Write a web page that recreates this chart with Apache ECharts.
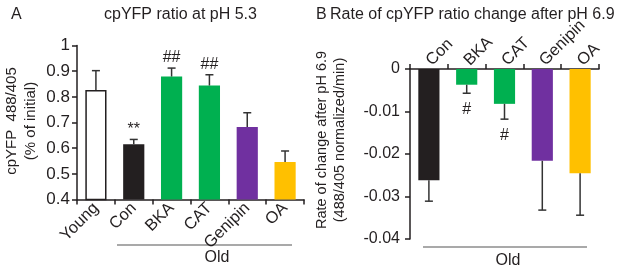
<!DOCTYPE html>
<html>
<head>
<meta charset="utf-8">
<script src="https://cdn.jsdelivr.net/npm/echarts@6/dist/echarts.min.js"></script>
<style>
  html, body { margin: 0; padding: 0; background: #fff; }
  #chart { width: 617px; height: 270px; }
</style>
</head>
<body>
<div id="chart"></div>
<script>
// panel A: cpYFP ratio at pH 5.3
var catsA = ['Young', 'Con', 'BKA', 'CAT', 'Genipin', 'OA'];
var valsA = [0.827, 0.615, 0.879, 0.844, 0.682, 0.546];
var semA = [0.075, 0.019, 0.033, 0.042, 0.056, 0.043];
var sigA = ['', '**', '##', '##', '', ''];
var ticksA = [0.4, 1, 0.1];

// panel B: rate of change after pH 6.9
var catsB = ['Con', 'BKA', 'CAT', 'Genipin', 'OA'];
var valsB = [-0.0262, -0.0037, -0.0082, -0.0216, -0.0245];
var semB = [0.0049, 0.0020, 0.0036, 0.0116, 0.0099];
var sigB = ['', '#', '#', '', ''];
var ticksB = [-0.04, 0, 0.01];

var colorsA = ['#ffffff', '#231f20', '#00b050', '#00b050', '#7030a0', '#ffc000'];
var colorsB = ['#231f20', '#00b050', '#00b050', '#7030a0', '#ffc000'];

var font = 'Liberation Sans, Arial, sans-serif';
var ink = '#231f20';

var myChart = echarts.init(document.getElementById('chart'));

// 误差线 + 显著性标记
function errRender(vals, sems, sigs, dir) {
    return function (params, api) {
        var i = api.value(0);
        var top = api.coord([i, vals[i]]);
        var end = api.coord([i, vals[i] + dir * sems[i]]);
        var half = 4;
        var kids = [
            { type: 'line', shape: { x1: top[0], y1: top[1], x2: end[0], y2: end[1] }, style: { stroke: '#333', lineWidth: 1.5 } },
            { type: 'line', shape: { x1: end[0] - half, y1: end[1], x2: end[0] + half, y2: end[1] }, style: { stroke: '#333', lineWidth: 1.5 } }
        ];
        if (sigs[i]) {
            kids.push({
                type: 'text',
                style: {
                    text: sigs[i], x: end[0], y: dir > 0 ? end[1] - 2 : end[1] + 8,
                    fill: ink, font: '16px ' + font,
                    textAlign: 'center', textVerticalAlign: dir > 0 ? 'bottom' : 'top'
                }
            });
        }
        return { type: 'group', children: kids };
    };
}

function axisStyle() {
    return { show: true, lineStyle: { color: ink, width: 1.5 } };
}
function tickStyle() {
    return { show: true, length: 5, lineStyle: { color: ink, width: 1.5 } };
}

var option = {
    animation: false,
    textStyle: { fontFamily: font },
    title: [
        { text: 'A', left: 6, top: 2, textStyle: { fontSize: 16, fontWeight: 'normal', color: ink } },
        { text: 'cpYFP ratio at pH 5.3', left: 99, top: 2, textStyle: { fontSize: 16, fontWeight: 'normal', color: ink } },
        { text: 'B', left: 311, top: 2, textStyle: { fontSize: 16, fontWeight: 'normal', color: ink } },
        { text: 'Rate of cpYFP ratio change after pH 6.9', left: 325, top: 2, textStyle: { fontSize: 16, fontWeight: 'normal', color: ink } }
    ],
    grid: [
        { left: 77, top: 45.5, width: 227, height: 154 },
        { left: 410, top: 69, width: 189, height: 170 }
    ],
    xAxis: [
        {
            gridIndex: 0, type: 'category', data: catsA,
            axisLine: axisStyle(), axisTick: tickStyle(),
            axisLabel: { rotate: 45, fontSize: 16.5, color: ink, margin: 6 }
        },
        {
            gridIndex: 1, type: 'category', data: catsB, position: 'top',
            axisLine: axisStyle(), axisTick: tickStyle(),
            axisLabel: { rotate: 45, fontSize: 16.5, color: ink, margin: 6 }
        }
    ],
    yAxis: [
        {
            gridIndex: 0, type: 'value', min: ticksA[0], max: ticksA[1], interval: ticksA[2],
            splitLine: { show: false },
            axisLine: axisStyle(), axisTick: tickStyle(),
            axisLabel: { fontSize: 17, color: ink, margin: 7, formatter: function (v) { return +v.toFixed(1) + ''; } }
        },
        {
            gridIndex: 1, type: 'value', min: ticksB[0], max: ticksB[1], interval: ticksB[2],
            splitLine: { show: false },
            axisLine: axisStyle(), axisTick: tickStyle(),
            axisLabel: { fontSize: 16, color: ink, margin: 10, formatter: function (v) { return +v.toFixed(2) + ''; } }
        }
    ],
    series: [
        {
            type: 'bar', xAxisIndex: 0, yAxisIndex: 0, barWidth: '56%',
            data: valsA.map(function (v, i) {
                return { value: v, itemStyle: { color: colorsA[i], borderColor: i === 0 ? ink : colorsA[i], borderWidth: i === 0 ? 1.5 : 0 } };
            })
        },
        {
            type: 'custom', xAxisIndex: 0, yAxisIndex: 0, z: 5,
            renderItem: errRender(valsA, semA, sigA, 1),
            data: catsA.map(function (c, i) { return [i, valsA[i] + semA[i]]; })
        },
        {
            type: 'bar', xAxisIndex: 1, yAxisIndex: 1, barWidth: '56%',
            data: valsB.map(function (v, i) { return { value: v, itemStyle: { color: colorsB[i] } }; })
        },
        {
            type: 'custom', xAxisIndex: 1, yAxisIndex: 1, z: 5,
            renderItem: errRender(valsB, semB, sigB, -1),
            data: catsB.map(function (c, i) { return [i, valsB[i] - semB[i]]; })
        }
    ],
    graphic: [
        // y轴标题
        { type: 'text', x: 21, y: 121, rotation: Math.PI / 2, style: { text: 'cpYFP  488/405\n(% of initial)', font: '15px ' + font, fill: ink, textAlign: 'center', textVerticalAlign: 'middle', lineHeight: 19 } },
        { type: 'text', x: 331, y: 140, rotation: Math.PI / 2, style: { text: 'Rate of change after pH 6.9\n(488/405 normalized/min)', font: '14.5px ' + font, fill: ink, textAlign: 'center', textVerticalAlign: 'middle', lineHeight: 18 } },
        // Old 括线
        { type: 'line', shape: { x1: 117, y1: 245, x2: 292, y2: 245 }, style: { stroke: '#555', lineWidth: 1.2 } },
        { type: 'text', x: 217, y: 258, style: { text: 'Old', font: '16px ' + font, fill: ink, textAlign: 'center', textVerticalAlign: 'middle' } },
        { type: 'line', shape: { x1: 423, y1: 247, x2: 587, y2: 247 }, style: { stroke: '#555', lineWidth: 1.2 } },
        { type: 'text', x: 508, y: 261, style: { text: 'Old', font: '16px ' + font, fill: ink, textAlign: 'center', textVerticalAlign: 'middle' } }
    ]
};
myChart.setOption(option);
</script>
</body>
</html>
